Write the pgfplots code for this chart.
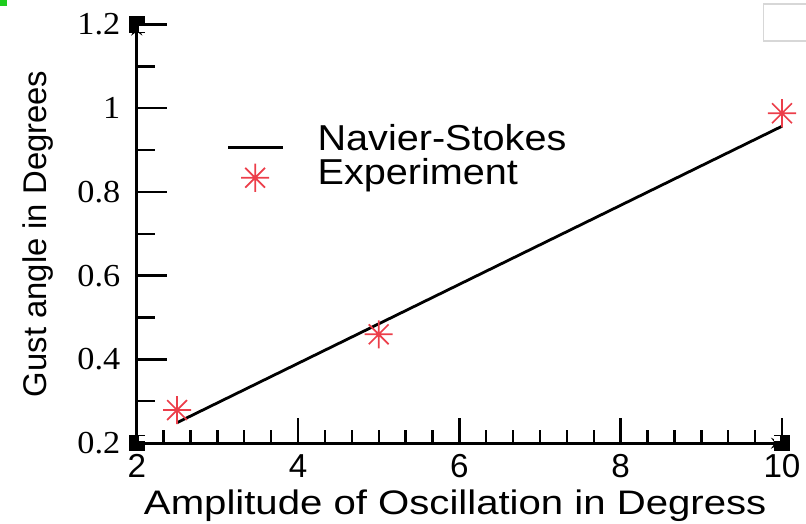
\documentclass[border=0pt]{standalone}
\usepackage{fontspec}
\setmainfont{Liberation Serif}
\setsansfont{Liberation Sans}
\usepackage{pgfplots}
\pgfplotsset{compat=1.18}

\definecolor{exptred}{RGB}{236,62,74}
\definecolor{framegray}{RGB}{215,215,215}
\definecolor{cornergreen}{RGB}{30,205,30}

% eight-armed asterisk used for the experimental points
\pgfdeclareplotmark{star8}{%
  \pgfpathmoveto{\pgfqpointpolar{0}{\pgfplotmarksize}}%
  \pgfpathlineto{\pgfqpointpolar{180}{\pgfplotmarksize}}%
  \pgfpathmoveto{\pgfqpointpolar{90}{\pgfplotmarksize}}%
  \pgfpathlineto{\pgfqpointpolar{270}{\pgfplotmarksize}}%
  \pgfpathmoveto{\pgfqpointpolar{45}{\pgfplotmarksize}}%
  \pgfpathlineto{\pgfqpointpolar{225}{\pgfplotmarksize}}%
  \pgfpathmoveto{\pgfqpointpolar{135}{\pgfplotmarksize}}%
  \pgfpathlineto{\pgfqpointpolar{315}{\pgfplotmarksize}}%
  \pgfusepathqstroke}

\pgfplotsset{
  gustframe/.style={
    scale only axis,
    width=322.5pt, height=209.25pt,
    xmin=2, xmax=10, ymin=0.2, ymax=1.2,
    clip=false,
    axis line style={line width=1.4pt, -},
    every tick/.style={black, line width=1.2pt},
    /pgf/number format/assume math mode=true,
  },
}

\begin{document}
\begin{tikzpicture}
% x axis, data and legend
\begin{axis}[
  gustframe,
  axis x line=bottom, axis y line=none,
  tick align=inside,
  xtick={2,4,6,8,10},
  minor x tick num=5,
  major tick length=12.5pt, minor tick length=6.5pt,
  xticklabel style={font=\sffamily\fontsize{16.6}{18}\selectfont,
    anchor=base, inner sep=0pt, yshift=-17pt},
  xlabel={Amplitude of Oscillation in Degress},
  xlabel style={font=\sffamily\fontsize{17}{20}\selectfont, xscale=1.18,
    at={(axis description cs:0.4935,0)}, anchor=base, inner sep=0pt, yshift=-35.5pt},
  legend style={draw=none, fill=none, inner sep=0pt, outer sep=0pt,
    at={(0.1395,0.7606)}, anchor=north west,
    font=\sffamily\fontsize{18}{21}\selectfont,
    nodes={inner sep=0pt, text height=13pt, text depth=4pt, xscale=1.1},
    row sep=0pt, column sep=16.5pt},
  legend cell align=left,
]
\addplot[black, line width=1.4pt,
  legend image code/.code={\draw[black, line width=1.4pt] (0pt,-3pt) -- (27.5pt,-3pt);}]
  coordinates {(2.5,0.249) (10,0.957)};
\addlegendentry{Navier-Stokes}
\addplot[only marks, mark=star8, mark size=7pt, exptred,
  mark options={line width=0.85pt},
  legend image code/.code={\draw[exptred, line width=0.85pt, mark=star8, mark size=7pt]
    plot[only marks] coordinates {(13.5pt,-1pt)};}]
  coordinates {(2.5,0.279) (5,0.46) (10,0.988)};
\addlegendentry{Experiment}
\end{axis}

% y axis and corner markers
\begin{axis}[
  gustframe,
  axis x line=none, axis y line=left,
  tick align=inside,
  ytick={0.2,0.4,0.6,0.8,1,1.2},
  minor y tick num=1,
  major tick length=15pt, minor tick length=9pt,
  yticklabel style={font=\rmfamily\fontsize{16}{18}\selectfont, xscale=1.07,
    anchor=east, inner sep=0pt, xshift=-7.5pt},
  ylabel={Gust angle in Degrees},
  ylabel style={font=\sffamily\fontsize{16.4}{19}\selectfont,
    at={(axis description cs:-0.1778,0.5)}, anchor=north, inner sep=0pt},
]
\fill[black] ([shift={(-4pt,-4pt)}]axis cs:2,1.2) rectangle ++(8pt,8pt);
\fill[white] ([shift={(1.2pt,-0.9pt)}]axis cs:2,1.2) rectangle ++(2.8pt,-2.8pt);
\fill[black] ([shift={(-4pt,-4pt)}]axis cs:2,0.2) rectangle ++(8pt,8pt);
\fill[white] ([shift={(1.2pt,0.9pt)}]axis cs:2,0.2) rectangle ++(2.8pt,2.8pt);
\fill[black] ([shift={(-4pt,-4pt)}]axis cs:10,0.2) rectangle ++(8pt,8pt);
\fill[white] ([shift={(-1.2pt,0.9pt)}]axis cs:10,0.2) rectangle ++(-2.8pt,2.8pt);
\end{axis}

\draw[framegray, line width=0.6pt] (340pt,219.5pt) -- (313.15pt,219.5pt) -- (313.15pt,201pt) -- (340pt,201pt);
\fill[cornergreen] (-68.35pt,221.5pt) rectangle (-64.85pt,218.5pt);

\pgfresetboundingbox
\useasboundingbox (-68.35pt,-40pt) rectangle (334.5pt,221.5pt);
\end{tikzpicture}
\end{document}
